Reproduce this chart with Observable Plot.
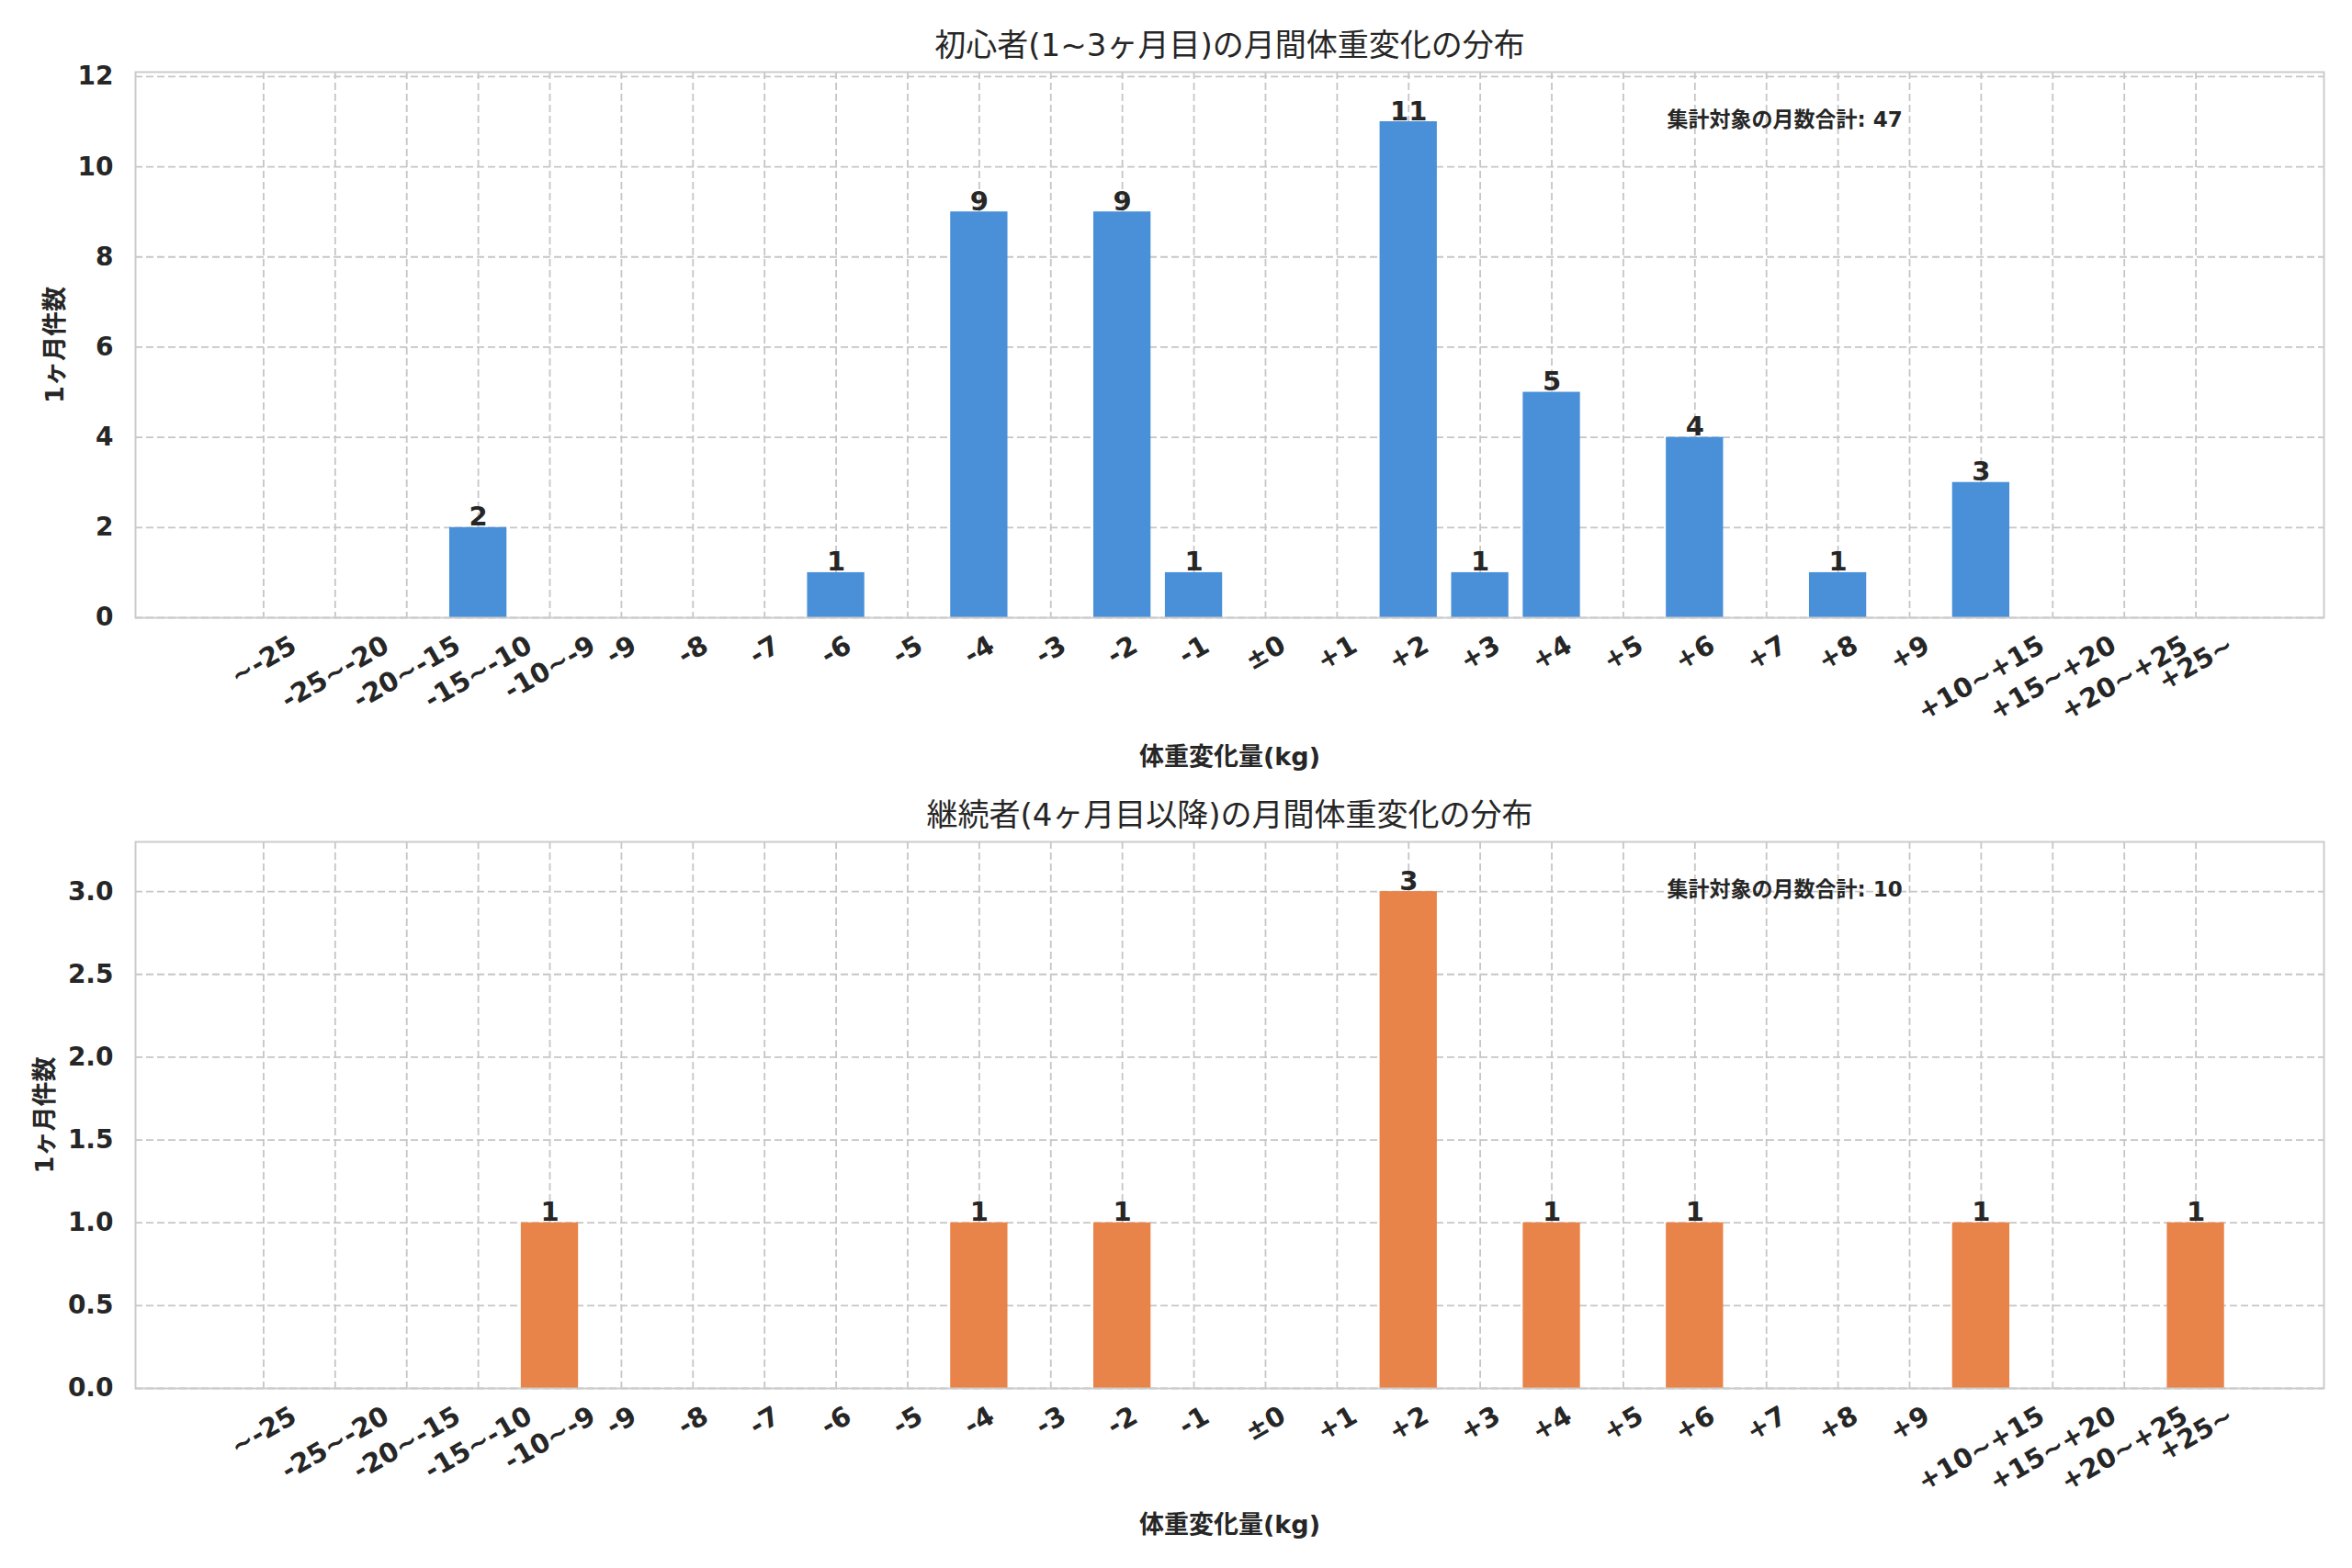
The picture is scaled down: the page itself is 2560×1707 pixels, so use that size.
<!DOCTYPE html>
<html><head><meta charset="utf-8">
<script src="https://cdn.jsdelivr.net/npm/d3@7"></script>
<script src="https://cdn.jsdelivr.net/npm/@observablehq/plot@0.6"></script>
<style>
html,body{margin:0;padding:0;background:#fff;}
#chart{width:2560px;}
#chart svg{display:block;}
</style></head><body><div id="chart"></div>
<script>
// ---- data ----
const categories = ["~-25","-25~-20","-20~-15","-15~-10","-10~-9","-9","-8","-7","-6","-5","-4","-3","-2","-1","±0","+1","+2","+3","+4","+5","+6","+7","+8","+9","+10~+15","+15~+20","+20~+25","+25~"];
const beginnerCounts = [0,0,0,2,0,0,0,0,1,0,9,0,9,1,0,0,11,1,5,0,4,0,1,0,3,0,0,0];
const continuingCounts = [0,0,0,0,1,0,0,0,0,0,1,0,1,0,0,0,3,0,1,0,1,0,0,0,1,0,0,1];
const topTicks = [0,2,4,6,8,10,12];
const bottomTicks = [0,0.5,1.0,1.5,2.0,2.5,3.0];
const titles = ["初心者(1~3ヶ月目)の月間体重変化の分布", "継続者(4ヶ月目以降)の月間体重変化の分布"];
const xLabel = "体重変化量(kg)";
const yLabel = "1ヶ月件数";
const totalLabel = "集計対象の月数合計";

const FONT = "'DejaVu Sans', 'Noto Sans CJK JP', sans-serif";
const TICK_FS = 29;
const ctx = document.createElement("canvas").getContext("2d");
ctx.font = `bold ${TICK_FS}px 'DejaVu Sans'`;
const measure = s => ctx.measureText(s).width;

function chart(o) {
  const data = categories.map((c, i) => ({c, v: o.counts[i]}));
  const nonzero = data.filter(d => d.v > 0);
  const total = d3.sum(o.counts);
  const gridStyle = {stroke: "#c6c6c6", strokeOpacity: 1, strokeWidth: 1.8, strokeDasharray: "8,4"};
  const tickLabels = categories.map(c => Plot.text([c], {
    x: d => d, text: d => d, frameAnchor: "bottom", rotate: -30,
    textAnchor: "middle", lineAnchor: "middle",
    dy: 13 + (measure(c) * 0.5 + TICK_FS) / 2,
    fontSize: TICK_FS, fontWeight: "bold", fill: "#262626"
  }));
  return Plot.plot({
    width: 2560, height: o.height,
    marginTop: o.mTop, marginBottom: o.mBottom, marginLeft: 147, marginRight: 31,
    style: {fontFamily: FONT, fontSize: "27px", color: "#262626", background: "#fff", overflow: "visible"},
    x: {type: "band", domain: categories, paddingInner: 0.2, paddingOuter: 1.39, round: false, axis: null},
    y: {domain: [0, o.yMax], axis: null},
    marks: [
      Plot.gridX(gridStyle),
      Plot.gridY(o.ticks, gridStyle),
      Plot.barY(data, {x: "c", y: "v", fill: o.color}),
      Plot.frame({stroke: "#cccccc", strokeWidth: 2}),
      Plot.axisY(o.ticks, {tickSize: 0, tickPadding: 24, tickFormat: o.fmt, fontSize: 28, fontWeight: "bold", fill: "#262626", label: null}),
      Plot.text(nonzero, {x: "c", y: "v", text: d => String(d.v), lineAnchor: "bottom", dy: -2, fontSize: 29, fontWeight: "bold", fill: "#262626"}),
      ...tickLabels,
      Plot.text([o.title], {frameAnchor: "top", dy: -18, lineAnchor: "bottom", fontSize: 34, fontWeight: "normal", fill: "#262626"}),
      Plot.text([xLabel], {frameAnchor: "bottom", dy: o.xlabDy, lineAnchor: "bottom", fontSize: 27, fontWeight: "bold", fill: "#262626"}),
      Plot.text([yLabel], {frameAnchor: "left", dx: o.ylabDx, rotate: -90, textAnchor: "middle", lineAnchor: "middle", fontSize: 27, fontWeight: "bold", fill: "#262626"}),
      Plot.text([`${totalLabel}: ${total}`], {frameAnchor: "top-left", dx: 1667, dy: 59, textAnchor: "start", lineAnchor: "bottom", fontSize: 23, fontWeight: "bold", fill: "#262626"})
    ]
  });
}

const root = document.getElementById("chart");
root.append(chart({counts: beginnerCounts, color: "#4a90d9", title: titles[0], yMax: 12.1, ticks: topTicks, fmt: d3.format("d"),
  height: 853, mTop: 78, mBottom: 181, xlabDy: 160, ylabDx: -87}));
root.append(chart({counts: continuingCounts, color: "#e8834a", title: titles[1], yMax: 3.3, ticks: bottomTicks, fmt: d3.format(".1f"),
  height: 854, mTop: 63, mBottom: 196, xlabDy: 157, ylabDx: -98}));
</script>
</body></html>
